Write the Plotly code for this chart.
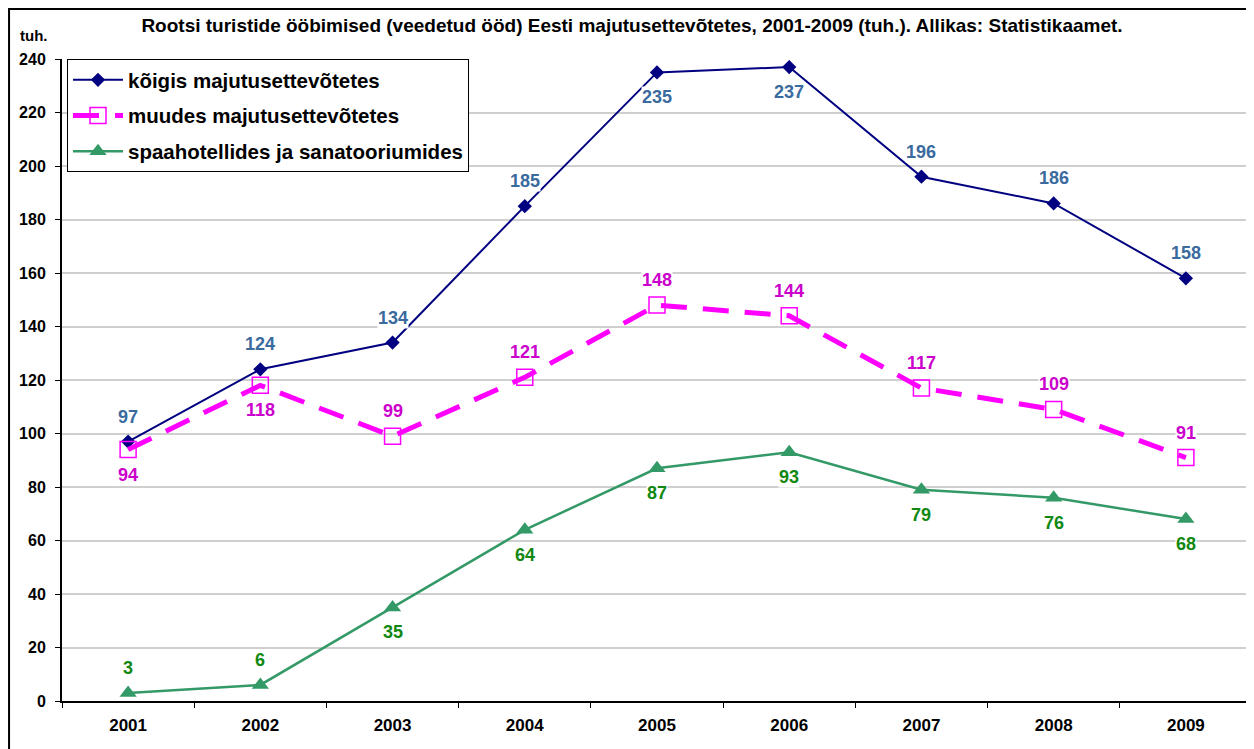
import plotly.graph_objects as go

years = ["2001", "2002", "2003", "2004", "2005", "2006", "2007", "2008", "2009"]
koigis = [97, 124, 134, 185, 235, 237, 196, 186, 158]
muudes = [94, 118, 99, 121, 148, 144, 117, 109, 91]
spaa = [3, 6, 35, 64, 87, 93, 79, 76, 68]

names = ["kõigis majutusettevõtetes", "muudes majutusettevõtetes", "spaahotellides ja sanatooriumides"]
# label placement: +1 above, -1 below
pos_koigis = [1, 1, 1, 1, -1, -1, 1, 1, 1]
pos_muudes = [-1, -1, 1, 1, 1, 1, 1, 1, 1]
pos_spaa = [1, 1, -1, -1, -1, -1, -1, -1, -1]

FONT = "Liberation Sans, Arial, sans-serif"

fig = go.Figure()
fig.add_trace(go.Scatter(
    x=years, y=koigis, name="<b>" + names[0] + "</b>", mode="lines+markers", legendgroup="a",
    line=dict(color="#000080", width=2),
    marker=dict(symbol="diamond", size=11, color="#000080"),
))
fig.add_trace(go.Scatter(
    x=years, y=muudes, name="<b>" + names[1] + "</b>", mode="lines+markers", legendgroup="b",
    line=dict(color="#FF00FF", width=5, dash="26px,16px"),
    marker=dict(symbol="square-open", size=16, color="#FF00FF", line=dict(width=1.5, color="#FF00FF")),
))
fig.add_trace(go.Scatter(
    x=years, y=spaa, name="<b>" + names[2] + "</b>", mode="lines+markers", legendgroup="c",
    line=dict(color="#339966", width=2.5),
    marker=dict(symbol="triangle-up", size=15, color="#339966"),
))

label_sets = [
    (koigis, pos_koigis, "#3A6A9E"),
    (muudes, pos_muudes, "#CC00CC"),
    (spaa, pos_spaa, "#118811"),
]
for vals, poss, col in label_sets:
    for i, (v, p) in enumerate(zip(vals, poss)):
        fig.add_annotation(
            x=i, y=v, xref="x", yref="y", text=f"<b>{v}</b>", showarrow=False,
            yshift=25 * p, font=dict(family=FONT, size=18, color=col),
            bgcolor="white", borderpad=0,
        )

fig.add_annotation(
    xref="paper", yref="paper", x=-0.0235, y=1.037, text="<b>tuh.</b>",
    xanchor="center", yanchor="middle",
    showarrow=False, font=dict(family=FONT, size=15, color="black"),
)

# outer chart frame
fig.add_shape(type="rect", xref="paper", yref="paper",
              x0=-0.0445, x1=1.05, y0=-0.2, y1=1.078,
              line=dict(color="black", width=2), layer="below")

fig.update_layout(
    width=1246, height=741,
    margin=dict(l=54, r=2, t=51, b=48),
    paper_bgcolor="white", plot_bgcolor="white",
    title=dict(
        text="<b>Rootsi turistide ööbimised (veedetud ööd) Eesti majutusettevõtetes, 2001-2009 (tuh.). Allikas: Statistikaamet.</b>",
        x=624 / 1246, xanchor="center", y=1 - 17 / 741, yanchor="middle", yref="container",
        font=dict(family=FONT, size=19, color="black"),
    ),
    font=dict(family=FONT, color="black"),
    showlegend=True,
    legend=dict(
        x=0.0042, y=1.0, xanchor="left", yanchor="top",
        bordercolor="black", borderwidth=1, bgcolor="white",
        font=dict(family=FONT, size=20.5, color="black"),
        itemwidth=50, tracegroupgap=6,
        traceorder="grouped",
    ),
    xaxis=dict(
        type="category", range=[-0.5, 8.5], tickson="boundaries",
        ticks="outside", ticklen=5, tickcolor="black", tickwidth=1,
        showline=True, linecolor="black", linewidth=2, showgrid=False,
        tickfont=dict(family=FONT, size=17, color="black"),
        tickprefix="<b>", ticksuffix="</b>", ticklabelstandoff=8,
    ),
    yaxis=dict(
        range=[0, 240], dtick=20, tick0=0,
        ticks="outside", ticklen=5, tickcolor="black", tickwidth=1,
        showline=True, linecolor="black", linewidth=2,
        showgrid=True, gridcolor="#CFCFCF", gridwidth=1.5, zeroline=False,
        tickfont=dict(family=FONT, size=16, color="black"),
        tickprefix="<b>", ticksuffix="</b>", ticklabelstandoff=6,
    ),
)

fig.write_html("out.html")
